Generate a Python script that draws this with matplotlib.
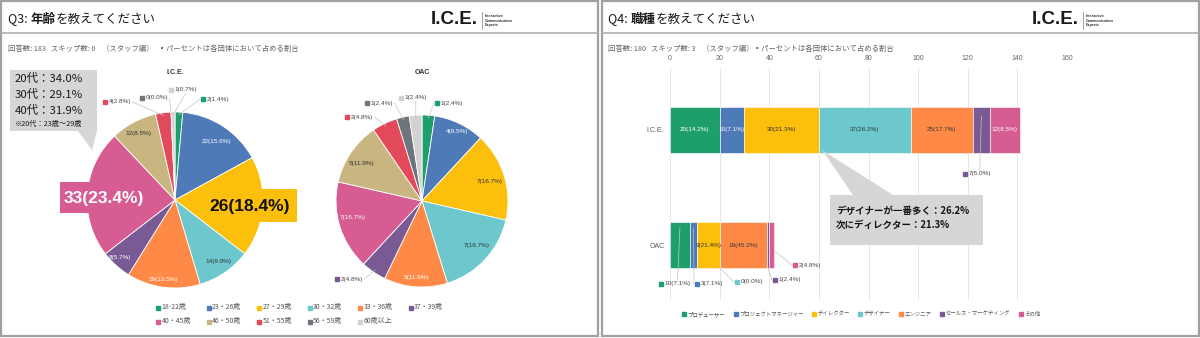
import matplotlib
matplotlib.use('Agg')
import matplotlib.pyplot as plt
from matplotlib.patches import Rectangle, Polygon
import numpy as np

plt.rcParams['font.family'] = ['Noto Sans CJK JP', 'DejaVu Sans']

W, H = 1200, 338

# ---------------- data ----------------
age_categories = ['18-22歳', '23・26歳', '27・29歳', '30・32歳', '33・36歳', '37・39歳',
                  '40・45歳', '46・50歳', '51・55歳', '56・59歳', '60歳以上']
ice_age_counts = [2, 22, 26, 14, 19, 8, 33, 12, 4, 0, 1]
oac_age_counts = [1, 4, 7, 7, 5, 2, 7, 5, 2, 1, 1]

job_categories = ['プロデューサー', 'プロジェクトマネージャー', 'ディレクター', 'デザイナー',
                  'エンジニア', 'セールス・マーケティング', 'その他']
ice_job_counts = [20, 10, 30, 37, 25, 7, 12]
oac_job_counts = [8, 3, 9, 0, 19, 1, 2]
oac_job_labels = ['10(7.1%)', '3(7.1%)', '9(21.4%)', '0(0.0%)', '19(45.2%)', '1(2.4%)', '2(4.8%)']
bar_groups = ['I.C.E.', 'OAC']
bar_ticks = [0, 20, 40, 60, 80, 100, 120, 140, 160]

age_callout = ['20代：34.0%', '30代：29.1%', '40代：31.9%']
age_note = '※20代：23歳〜29歳'
job_callout = ['デザイナーが一番多く：26.2%', '次にディレクター：21.3%']

q3_title = [('Q3: ', 'normal'), ('年齢', 'bold'), ('を教えてください', 'normal')]
q4_title = [('Q4: ', 'normal'), ('職種', 'bold'), ('を教えてください', 'normal')]
q3_sub = '回答数: 183   スキップ数: 0    （スタッフ編）   ▪パーセントは各団体において占める割合'
q4_sub = '回答数: 180   スキップ数: 3    （スタッフ編）▪パーセントは各団体において占める割合'

# ---------------- style ----------------
age_colors = ['#1E9E6A', '#4E7AB8', '#FBBF0C', '#6CC8CD', '#FF8A48', '#7A5A94',
              '#D65C92', '#C8B57F', '#E24A5C', '#6E757C', '#D2D2D2']
job_colors = ['#1E9E6A', '#4E7AB8', '#FBBF0C', '#6CC8CD', '#FF8A48', '#7A5A94', '#D65C92']
DARK = '#333333'
LBL = '#444444'
LINE = '#c4c4c4'


def rect(x0, y0, x1, y1):
    return [x0 / W, 1 - y1 / H, (x1 - x0) / W, (y1 - y0) / H]


fig = plt.figure(figsize=(12, 3.38), dpi=100)
fig.patch.set_facecolor('white')

# ---------------- pies ----------------
pie_specs = [('I.C.E.', ice_age_counts, 175, 200, 88), ('OAC', oac_age_counts, 422, 201, 86)]
pie_axes = []
pie_wedges = []
for name, counts, cx, cy, r in pie_specs:
    ax = fig.add_axes(rect(cx - r, cy - r, cx + r, cy + r))
    wedges, _ = ax.pie(counts, colors=age_colors, startangle=90, counterclock=False,
                       radius=1, wedgeprops=dict(edgecolor='white', linewidth=0.6))
    ax.set_xlim(-1, 1)
    ax.set_ylim(-1, 1)
    ax.set_aspect('equal')
    ax.axis('off')
    pie_axes.append(ax)
    pie_wedges.append(wedges)

# ---------------- bars ----------------
bar_ax = fig.add_axes(rect(670, 68, 1067, 300))
BAR_H = 0.40
for row, counts in enumerate([ice_job_counts, oac_job_counts]):
    left = 0
    for i, v in enumerate(counts):
        bar_ax.barh(row, v, left=left, height=BAR_H, color=job_colors[i], edgecolor='white',
                    linewidth=0.4, zorder=3)
        left += v
bar_ax.set_xlim(0, 160)
bar_ax.set_ylim(1.478, -0.539)
bar_ax.set_xticks(bar_ticks)
bar_ax.set_xticklabels([str(t) for t in bar_ticks], fontsize=5, color='#666666',
                       family=['Liberation Sans'])
bar_ax.xaxis.tick_top()
bar_ax.tick_params(axis='x', length=0, pad=4)
bar_ax.set_yticks([0, 1])
bar_ax.set_yticklabels(bar_groups, fontsize=5, color='#555555', family=['Liberation Sans'])
bar_ax.tick_params(axis='y', length=0, pad=4)
bar_ax.grid(axis='x', color='#e6e6e6', linewidth=0.7, zorder=0)
for s in bar_ax.spines.values():
    s.set_visible(False)

# ---------------- overlay (pixel coords) ----------------
ov = fig.add_axes([0, 0, 1, 1])
ov.set_xlim(0, W)
ov.set_ylim(H, 0)
ov.axis('off')
ov.patch.set_alpha(0)
ov.set_zorder(10)
renderer = fig.canvas.get_renderer()
inv = ov.transData.inverted()


def to_px(ax, pt):
    return inv.transform(ax.transData.transform(pt))


def extent(t):
    bb = t.get_window_extent(renderer)
    (x0, y1), (x1, y0) = inv.transform([(bb.x0, bb.y0), (bb.x1, bb.y1)])
    return x0, y0, x1, y1


# panel borders / header lines / logos
for off in (0, 601):
    ov.add_patch(Rectangle((off + 1, 1), 597, 335, fill=False, edgecolor='#a0a0a0', lw=1.6))
    ov.plot([off + 2, off + 597], [32.5, 32.5], color='#b4b4b4', lw=1.3)
    ov.text(off + 478, 20, 'I.C.E.', ha='right', va='center', fontsize=13.5, fontweight='bold',
            family=['Liberation Sans'], color='#1a1a1a')
    ov.plot([off + 482, off + 482], [12, 29], color='#777777', lw=0.5)
    ov.text(off + 484.5, 20.5, 'Interactive\nCommunication\nExperts', ha='left', va='center',
            fontsize=2.7, fontweight='bold', family=['Liberation Sans'], color='#333333',
            linespacing=1.05)


def seq_text(x, y, pieces, **kw):
    for s, wt in pieces:
        t = ov.text(x, y, s, fontweight=wt, ha='left', va='center', **kw)
        x = extent(t)[2]


seq_text(8, 19, q3_title, fontsize=9, color='#1a1a1a')
seq_text(608, 19, q4_title, fontsize=9, color='#1a1a1a')
ov.text(8, 49, q3_sub, fontsize=5.3, color='#666666', va='center', ha='left')
ov.text(608, 49, q4_sub, fontsize=5.3, color='#666666', va='center', ha='left')

# pie titles
for (name, counts, cx, cy, r) in pie_specs:
    ov.text(cx, 72, name, ha='center', va='center', fontsize=5, fontweight='bold',
            family=['Liberation Sans'], color='#333333')


def pct_label(v, total):
    return f'{v}({v / total * 100:.1f}%)'


def outside_label(mx, my, text, color, target_px):
    ov.plot([mx], [my], marker='s', markersize=2.2, color=color, linestyle='none')
    t = ov.text(mx + 3.5, my, text, ha='left', va='center', fontsize=4.6,
                family=['Liberation Sans'], color=LBL)
    x0, y0, x1, y1 = extent(t)
    tx, ty = target_px
    if tx > x1 + 2:
        sx, sy = x1 + 1.5, (y0 + y1) / 2
    elif tx < mx - 3:
        sx, sy = mx - 3, my
    else:
        sx, sy = (x0 + x1) / 2, (y1 + 1 if ty > my else y0 - 1)
    ov.plot([sx, tx], [sy, ty], color=LINE, lw=0.5)


# layout of pie labels (pixel positions)
pie_outside = [
    {0: (203, 99), 8: (105, 102), 9: (142, 98), 10: (171, 90)},
    {0: (437, 103), 10: (401, 98), 9: (367, 103), 8: (347, 117), 5: (337, 279)},
]
pie_inside = [
    {1: ((217, 141), 'white'), 3: ((218, 262), DARK), 4: ((163, 279), 'white'),
     5: ((120, 258), 'white'), 7: ((138, 134), DARK)},
    {1: ((457, 132), 'white'), 2: ((490, 182), DARK), 3: ((477, 245), DARK),
     4: ((417, 278), 'white'), 6: ((353, 218), 'white'), 7: ((362, 163), DARK)},
]

for k, (name, counts, cx, cy, r) in enumerate(pie_specs):
    total = sum(counts)
    wedges = pie_wedges[k]
    for i, (mx, my) in pie_outside[k].items():
        w = wedges[i]
        mid = np.deg2rad((w.theta1 + w.theta2) / 2)
        tgt = to_px(pie_axes[k], (0.97 * np.cos(mid), 0.97 * np.sin(mid)))
        outside_label(mx, my, pct_label(counts[i], total), age_colors[i], tgt)
    for i, ((x, y), c) in pie_inside[k].items():
        ov.text(x, y, pct_label(counts[i], total), ha='center', va='center', fontsize=4.6,
                family=['Liberation Sans'], color=c)

# big highlight boxes on the I.C.E. pie
ice_total = sum(ice_age_counts)
ov.add_patch(Rectangle((60, 182), 90, 31, color=age_colors[6], lw=0))
ov.text(104, 198, pct_label(ice_age_counts[6], ice_total), ha='center', va='center',
        fontsize=12.5, fontweight='bold', family=['Liberation Sans'], color='white')
ov.add_patch(Rectangle((205, 189), 92, 33, color=age_colors[2], lw=0))
ov.text(250, 206, pct_label(ice_age_counts[2], ice_total), ha='center', va='center',
        fontsize=12.5, fontweight='bold', family=['Liberation Sans'], color='#111111')

# gray callout on the left
ov.add_patch(Polygon([(10, 70), (97, 70), (97, 131), (92, 150), (78, 131), (10, 131)],
                     closed=True, color='#d6d6d6', lw=0))
for j, s in enumerate(age_callout):
    ov.text(15, 78 + j * 16, s, ha='left', va='center', fontsize=8.2, color='#1a1a1a')
ov.text(15, 124, age_note, ha='left', va='center', fontsize=5.2, color='#1a1a1a')

# age legend
for i, cat in enumerate(age_categories):
    row, col = divmod(i, 6)
    lx = 158 + col * 50.5
    ly = 307.5 + row * 14
    ov.plot([lx], [ly], marker='s', markersize=2.2, color=age_colors[i], linestyle='none')
    ov.text(lx + 3.5, ly, cat, ha='left', va='center', fontsize=5, color='#555555')

# bar labels
ice_job_text = ['white', 'white', DARK, DARK, DARK, None, 'white']
oac_job_text = [None, None, DARK, None, DARK, None, None]
ice_job_total = sum(ice_job_counts)
bar_outside = [
    {5: ((965, 174), -0.12)},
    {0: ((661, 284), -0.15), 1: ((697, 284), -0.15), 3: ((737, 282), 0.2),
     5: ((775, 280), 0.2), 6: ((795, 265), 0.05)},
]
for row, counts in enumerate([ice_job_counts, oac_job_counts]):
    cum = np.cumsum([0] + counts)
    for i, v in enumerate(counts):
        label = pct_label(v, ice_job_total) if row == 0 else oac_job_labels[i]
        tc = (ice_job_text if row == 0 else oac_job_text)[i]
        if tc is not None:
            bar_ax.text(cum[i] + v / 2, row, label, ha='center', va='center', fontsize=4.6,
                        family=['Liberation Sans'], color=tc, zorder=5)
        elif i in bar_outside[row]:
            (mx, my), dy = bar_outside[row][i]
            tx = cum[i] + v if (row == 1 and i == len(counts) - 1) else cum[i] + v / 2
            tgt = to_px(bar_ax, (tx, row + dy))
            outside_label(mx, my, label, job_colors[i], tgt)

# gray callout on the bar chart
ov.add_patch(Polygon([(830, 195), (853, 195), (822, 150), (893, 195), (983, 195),
                      (983, 245), (830, 245)], closed=True, color='#d6d6d6', lw=0))
for j, s in enumerate(job_callout):
    ov.text(836, 211 + j * 14, s, ha='left', va='center', fontsize=6.8, fontweight='bold',
            color='#111111')

# job legend
job_leg_x = [684, 736, 814, 860, 901, 942, 1021]
for i, cat in enumerate(job_categories):
    lx = job_leg_x[i]
    ov.plot([lx], [314], marker='s', markersize=2.2, color=job_colors[i], linestyle='none')
    ov.text(lx + 3.5, 314, cat, ha='left', va='center', fontsize=3.9, color='#555555')

fig.savefig('out.png', dpi=100)
